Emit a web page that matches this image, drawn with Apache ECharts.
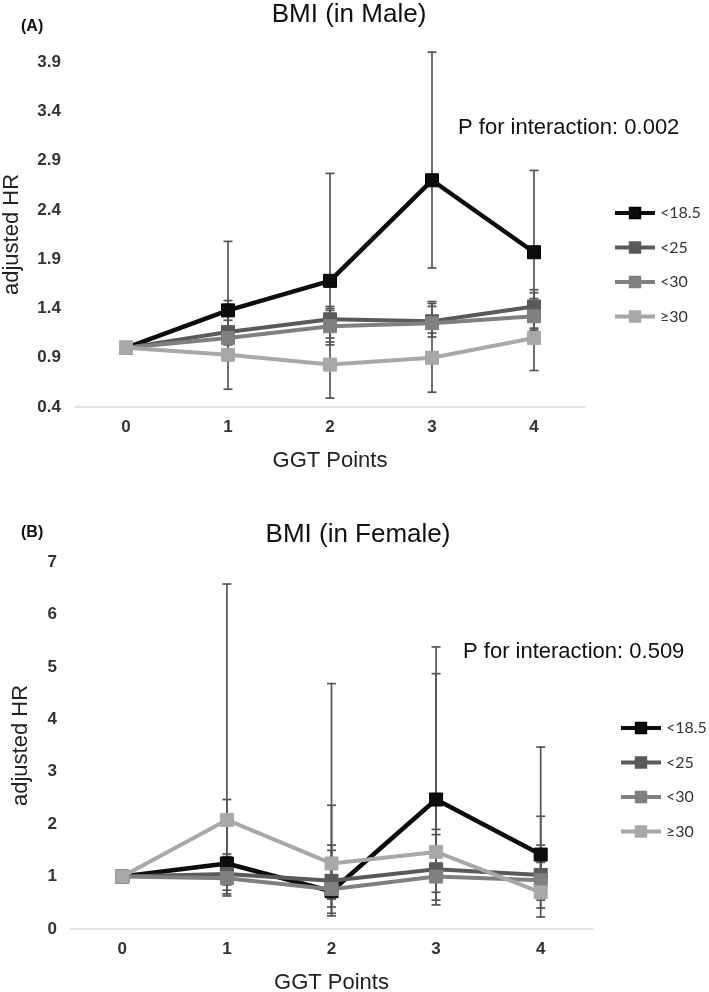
<!DOCTYPE html>
<html><head><meta charset="utf-8">
<script src="https://cdn.jsdelivr.net/npm/echarts@6/dist/echarts.min.js"></script>
<style>html,body{margin:0;padding:0;background:#fff}#c{width:709px;height:992px}</style>
</head><body><div id="c"></div>
<script>
// ---------- data ----------
const categories = ['0', '1', '2', '3', '4'];
const seriesNames = ['<18.5', '<25', '<30', '≥30'];
const maleTicks = [0.4, 0.9, 1.4, 1.9, 2.4, 2.9, 3.4, 3.9];
const femaleTicks = [0, 1, 2, 3, 4, 5, 6, 7];

const male185 = [1.00, 1.38, 1.68, 2.70, 1.97];
const male25  = [1.00, 1.16, 1.29, 1.27, 1.42];
const male30  = [1.00, 1.10, 1.22, 1.25, 1.32];
const male30p = [1.00, 0.93, 0.83, 0.90, 1.10];

const male185CI = [null, [1.03, 2.08], [1.03, 2.77], [1.81, 4.00], [1.20, 2.80]];
const male25CI  = [null, [1.07, 1.28], [1.10, 1.42], [1.11, 1.45], [1.16, 1.59]];
const male30CI  = [null, [0.98, 1.44], [1.06, 1.40], [1.15, 1.47], [1.18, 1.50]];
const male30pCI = [null, [0.58, 1.48], [0.49, 1.38], [0.55, 1.42], [0.77, 1.56]];

const female185 = [1.00, 1.25, 0.72, 2.47, 1.42];
const female25  = [1.00, 1.05, 0.92, 1.14, 1.03];
const female30  = [1.00, 0.97, 0.76, 1.00, 0.93];
const female30p = [1.00, 2.08, 1.25, 1.47, 0.70];

const female185CI = [null, [0.74, 2.47], [0.25, 2.36], [1.20, 5.38], [0.60, 3.47]];
const female25CI  = [null, [0.67, 1.43], [0.42, 1.60], [0.70, 1.90], [0.55, 1.27]];
const female30CI  = [null, [0.63, 1.38], [0.30, 1.50], [0.55, 1.80], [0.40, 1.60]];
const female30pCI = [null, [0.84, 6.58], [0.57, 4.68], [0.46, 4.87], [0.23, 2.15]];

// ---------- styles ----------
const colors = ['#0d0d0d', '#5a5a5a', '#808080', '#a8a8a8'];
const lineWidths = [4.5, 4, 4, 4];
const axisFont = 'Liberation Sans';

function ciData(ci) {
  const out = [];
  ci.forEach((v, i) => { if (v) out.push([i, v[0], v[1]]); });
  return out;
}
function errRender(params, api) {
  const x = api.value(0), lo = api.value(1), hi = api.value(2);
  const pHi = api.coord([x, hi]);
  const pLo = api.coord([x, lo]);
  const w = 4.5;
  const style = { stroke: '#555555', lineWidth: 1.7 };
  return {
    type: 'group',
    children: [
      { type: 'line', shape: { x1: pHi[0], y1: pHi[1], x2: pLo[0], y2: pLo[1] }, style: style },
      { type: 'line', shape: { x1: pHi[0] - w, y1: pHi[1], x2: pHi[0] + w, y2: pHi[1] }, style: style },
      { type: 'line', shape: { x1: pLo[0] - w, y1: pLo[1], x2: pLo[0] + w, y2: pLo[1] }, style: style }
    ]
  };
}

const panels = [
  { vals: [male185, male25, male30, male30p], cis: [male185CI, male25CI, male30CI, male30pCI] },
  { vals: [female185, female25, female30, female30p], cis: [female185CI, female25CI, female30CI, female30pCI] }
];

const series = [];
panels.forEach((p, gi) => {
  p.cis.forEach((ci, si) => {
    series.push({
      type: 'custom', xAxisIndex: gi, yAxisIndex: gi, renderItem: errRender,
      data: ciData(ci), clip: false, z: 1, silent: true,
      encode: { x: 0, y: [1, 2] }
    });
  });
  p.vals.forEach((vals, si) => {
    series.push({
      type: 'line', name: seriesNames[si], xAxisIndex: gi, yAxisIndex: gi,
      data: vals, symbol: 'rect', symbolSize: 13, z: 3 + si,
      lineStyle: { color: colors[si], width: lineWidths[si] },
      itemStyle: { color: colors[si], borderColor: si === 0 ? '#000' : colors[si], borderWidth: 1 },
      emphasis: { disabled: true }, animation: false
    });
  });
});

function xAxisCfg(gi) {
  return {
    type: 'category', gridIndex: gi, data: categories,
    axisLine: { lineStyle: { color: '#d9d9d9', width: 1.5 } },
    axisTick: { show: false },
    axisLabel: { color: '#333', fontSize: 17, fontWeight: 'bold', fontFamily: axisFont, margin: 12 },
    name: 'GGT Points', nameLocation: 'middle', nameGap: 43,
    nameTextStyle: { color: '#222', fontSize: 22, fontFamily: axisFont }
  };
}

function legendCfg(left, top) {
  return {
    orient: 'vertical', left: left, top: top, padding: 0,
    itemWidth: 40, itemHeight: 13, itemGap: 18.5,
    data: seriesNames, selectedMode: false,
    lineStyle: { width: 4 },
    textStyle: { color: '#333', fontSize: 16, fontFamily: 'Lato' }
  };
}

const option = {
  backgroundColor: '#ffffff',
  animation: false,
  grid: [
    { left: 75, right: 124, top: 62, bottom: 585, outerBoundsMode: 'none', containLabel: false },
    { left: 70, right: 116, top: 562, bottom: 63, outerBoundsMode: 'none', containLabel: false }
  ],
  xAxis: [xAxisCfg(0), xAxisCfg(1)],
  yAxis: [
    {
      type: 'value', gridIndex: 0, min: 0.4, max: 3.9,
      axisLine: { show: false }, axisTick: { show: false }, splitLine: { show: false },
      axisLabel: { customValues: maleTicks, formatter: v => v.toFixed(1), color: '#333', fontSize: 17, fontWeight: 'bold', fontFamily: axisFont, margin: 14 },
      name: 'adjusted HR', nameLocation: 'middle', nameGap: 52,
      nameTextStyle: { color: '#222', fontSize: 22, fontFamily: axisFont }
    },
    {
      type: 'value', gridIndex: 1, min: 0, max: 7, interval: 1,
      axisLine: { show: false }, axisTick: { show: false }, splitLine: { show: false },
      axisLabel: { customValues: femaleTicks, color: '#333', fontSize: 17, fontWeight: 'bold', fontFamily: axisFont, margin: 13 },
      name: 'adjusted HR', nameLocation: 'middle', nameGap: 38,
      nameTextStyle: { color: '#222', fontSize: 22, fontFamily: axisFont }
    }
  ],
  legend: [legendCfg(613, 205), legendCfg(619, 720)],
  graphic: [
    { type: 'text', x: 21, y: 27, style: { text: '(A)', font: 'bold 16px "Liberation Sans"', fill: '#111', verticalAlign: 'middle' } },
    { type: 'text', x: 349, y: 15, style: { text: 'BMI (in Male)', font: '26px "Liberation Sans"', fill: '#111', align: 'center', verticalAlign: 'middle' } },
    { type: 'text', x: 458, y: 128, style: { text: 'P for interaction: 0.002', font: '22px "Liberation Sans"', fill: '#111', verticalAlign: 'middle' } },
    { type: 'text', x: 21, y: 533, style: { text: '(B)', font: 'bold 16px "Liberation Sans"', fill: '#111', verticalAlign: 'middle' } },
    { type: 'text', x: 358, y: 535, style: { text: 'BMI (in Female)', font: '26px "Liberation Sans"', fill: '#111', align: 'center', verticalAlign: 'middle' } },
    { type: 'text', x: 463, y: 652, style: { text: 'P for interaction: 0.509', font: '22px "Liberation Sans"', fill: '#111', verticalAlign: 'middle' } }
  ],
  series: series
};

const chart = echarts.init(document.getElementById('c'), null, { renderer: 'canvas' });
chart.setOption(option);
</script>
</body></html>
